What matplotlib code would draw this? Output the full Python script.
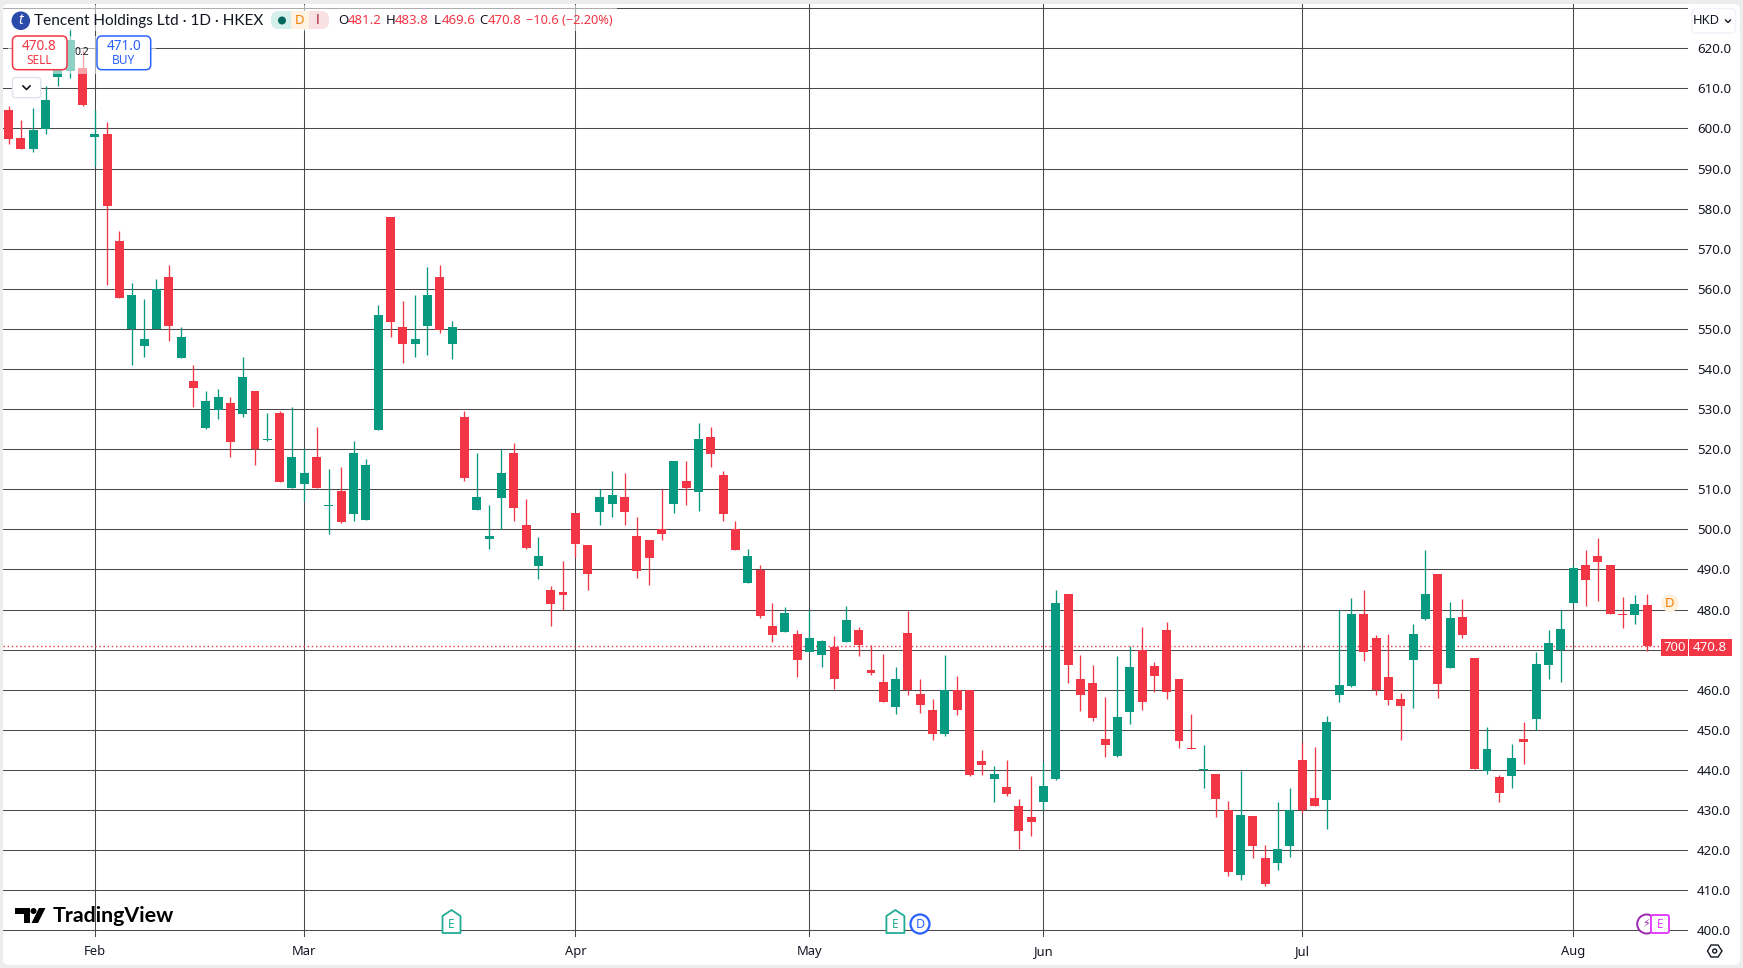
import matplotlib
matplotlib.use("Agg")
import matplotlib.pyplot as plt
from matplotlib.patches import Rectangle, Circle, FancyBboxPatch, Polygon

W, H = 1743, 968

opens = [604.6, 597.6, 594.9, 599.9, 612.8, 614.3, 615.1, 597.9, 598.6, 571.9, 549.9, 545.7, 549.9, 562.9, 542.7,
         537.0, 525.3, 529.8, 531.5, 528.8, 534.5, 522.3, 529.0, 510.3, 511.3, 518.0, 505.8, 509.6, 503.8, 502.3,
         524.8, 577.9, 550.5, 546.2, 550.7, 562.9, 546.2, 528.0, 504.8, 497.6, 507.8, 519.0, 501.1, 490.9,
         484.9, 484.4, 504.1, 496.1, 504.3, 506.3, 508.1, 498.3, 497.4, 500.0, 506.3, 512.1, 509.3, 523.0, 513.6,
         500.0, 486.6, 489.9, 475.9, 474.4, 473.9, 469.4, 468.7, 470.7, 471.9, 474.9, 464.9, 461.9, 455.7, 474.2,
         458.9, 454.9, 448.9, 459.9, 459.9, 442.2, 437.7, 435.7, 431.0, 428.2, 432.0, 437.7, 483.9, 462.7, 461.7,
         447.7, 443.5, 454.4, 469.8, 465.9, 474.9, 462.7, 445.5, 440.0, 439.0, 430.0, 413.8, 428.5, 418.0, 416.8,
         421.0, 442.5, 433.0, 432.5, 458.7, 460.9, 478.9, 472.9, 463.2, 457.7, 467.4, 477.6, 488.9, 465.4, 478.1,
         467.9, 439.7, 438.2, 438.5, 447.7, 452.7, 466.2, 469.8, 481.6, 491.1, 493.4, 491.1, 478.9, 478.6, 481.2]
highs = [605.6, 602.1, 605.1, 610.6, 617.0, 625.1, 619.6, 604.6, 601.6, 574.4, 561.5, 557.5, 562.5, 565.9, 550.5,
         541.0, 534.5, 535.0, 533.0, 543.0, 534.5, 529.0, 529.5, 530.5, 520.0, 525.5, 515.1, 515.6, 522.0, 517.6,
         556.0, 577.9, 557.0, 558.5, 565.5, 565.9, 552.0, 529.5, 519.0, 506.1, 520.0, 521.5, 507.6, 498.1,
         485.9, 492.1, 504.1, 496.1, 510.0, 514.6, 514.1, 503.1, 497.4, 510.0, 517.1, 517.1, 526.5, 525.5, 514.6,
         502.1, 495.1, 491.1, 481.6, 480.6, 474.9, 479.8, 472.4, 473.4, 480.9, 475.6, 471.2, 468.9, 465.7, 479.7,
         462.7, 457.7, 468.7, 463.4, 459.9, 445.0, 441.0, 442.5, 432.7, 438.5, 442.0, 484.9, 483.9, 468.7, 466.2,
         458.2, 468.4, 470.9, 475.6, 466.9, 476.9, 462.7, 453.9, 446.2, 439.0, 432.2, 439.7, 428.5, 421.3, 432.0,
         435.5, 447.0, 445.7, 453.5, 479.8, 482.9, 484.9, 473.7, 473.9, 459.2, 476.4, 494.9, 488.9, 481.9, 482.6,
         467.9, 450.7, 438.7, 446.5, 451.9, 469.4, 474.9, 479.8, 490.9, 494.9, 497.8, 491.1, 483.1, 483.6, 483.8]
lows = [596.1, 594.9, 594.1, 598.6, 610.6, 612.6, 605.6, 590.6, 561.0, 557.7, 541.0, 543.0, 549.9, 547.0, 542.7,
        530.5, 525.0, 527.5, 518.0, 528.0, 516.1, 522.0, 511.8, 510.3, 507.1, 510.3, 498.9, 501.6, 502.1, 502.3,
        524.8, 548.0, 541.5, 543.0, 543.5, 549.0, 542.5, 512.1, 504.8, 495.1, 500.0, 502.1, 495.1, 487.6,
        475.9, 479.9, 493.1, 484.9, 501.1, 503.1, 501.1, 487.9, 486.1, 497.4, 504.1, 506.1, 504.6, 515.6, 502.1,
        494.9, 486.6, 477.9, 471.9, 474.4, 463.2, 469.4, 465.7, 460.2, 471.9, 468.4, 463.7, 456.9, 453.9, 458.7,
        454.2, 447.5, 448.5, 453.7, 438.5, 438.7, 432.0, 433.5, 420.3, 423.5, 430.0, 437.5, 461.7, 454.7, 452.2,
        443.2, 443.2, 451.5, 455.0, 459.4, 457.7, 445.5, 445.2, 435.5, 428.2, 413.5, 412.5, 418.0, 411.0, 415.0,
        418.3, 429.2, 431.0, 425.3, 456.9, 460.7, 467.2, 458.7, 456.2, 447.5, 455.4, 477.4, 457.9, 465.4, 472.9,
        440.2, 439.0, 432.0, 435.5, 441.5, 449.9, 462.7, 461.9, 481.6, 480.9, 482.1, 478.9, 475.4, 476.4, 469.6]
closes = [597.4, 594.9, 599.6, 607.1, 615.0, 622.1, 605.9, 598.6, 580.7, 557.7, 558.5, 547.5, 559.9, 550.7, 548.0,
          535.3, 532.0, 533.0, 521.8, 538.0, 520.0, 522.5, 511.8, 518.0, 514.0, 510.3, 506.1, 501.8, 519.0, 516.1,
          553.5, 551.7, 546.2, 547.5, 558.5, 549.7, 550.5, 512.8, 508.1, 498.3, 514.0, 505.3, 495.4, 493.4,
          481.4, 483.6, 496.4, 488.9, 508.1, 508.6, 504.3, 489.6, 492.9, 498.8, 517.1, 510.3, 522.5, 518.8, 503.8,
          494.9, 493.4, 478.4, 473.6, 479.1, 467.4, 472.9, 472.2, 462.7, 477.4, 471.2, 464.2, 456.9, 462.7, 459.9,
          456.2, 448.9, 459.9, 454.9, 438.7, 441.2, 439.0, 434.0, 424.8, 427.0, 436.0, 481.6, 466.2, 458.7, 453.0,
          446.2, 453.2, 465.7, 457.0, 463.4, 459.4, 447.2, 445.2, 440.2, 432.7, 414.5, 428.7, 421.0, 411.5, 420.3,
          429.9, 429.9, 431.0, 451.9, 461.2, 478.9, 469.4, 459.9, 457.4, 455.9, 473.9, 483.9, 461.4, 477.9, 473.7,
          440.2, 445.2, 434.2, 443.0, 447.0, 466.4, 471.7, 475.1, 490.4, 487.4, 491.9, 478.9, 478.6, 481.4, 470.8]

month_pos = [7, 24, 46, 65, 84, 105, 127]
month_labels = ["Feb", "Mar", "Apr", "May", "Jun", "Jul", "Aug"]
price_ticks = list(range(400, 631, 10))
price_labels = [f"{p}.0" for p in price_ticks[:-1]] + [""]

last_price = closes[-1]
sell_price = "470.8"
buy_price = "471.0"

UP = "#089981"
DOWN = "#F23645"
GRID = "#4a4a4a"
TXT = "#131722"
BLUE = "#2962FF"
FONT = "Noto Sans"

plt.rcParams["font.family"] = FONT

fig = plt.figure(figsize=(W / 100, H / 100), dpi=100, facecolor="#EDEDED")

# panneau blanc derriere tout
bg = fig.add_axes([0, 0, 1, 1], zorder=0)
bg.set_xlim(0, W)
bg.set_ylim(H, 0)
bg.axis("off")
bg.add_patch(FancyBboxPatch((3, 4), W - 6, H - 7, boxstyle="round,pad=0,rounding_size=6", fc="white", ec="none"))

# pane des prix : x 3-1688, y 4-937
ax = fig.add_axes([3 / W, (H - 937) / H, 1685 / W, 933 / H], zorder=1)
ax.patch.set_alpha(0)
ax.set_xlim((3 - 8.6) / 12.32, (1688 - 8.6) / 12.32)
ax.set_ylim(620 - (937 - 48.3) / 4.009, 620 + (48.3 - 4) / 4.009)
for s in ax.spines.values():
    s.set_visible(False)

ax.set_xticks(month_pos)
ax.set_xticklabels(month_labels, fontsize=9.3, color=TXT)
ax.set_yticks(price_ticks)
ax.set_yticklabels(price_labels, fontsize=9.6, color=TXT)
ax.yaxis.tick_right()
ax.tick_params(axis="both", length=0)
ax.tick_params(axis="x", pad=5.5)
ax.tick_params(axis="y", pad=6.5)
ax.grid(True, color=GRID, linewidth=0.75, zorder=1)
ax.set_axisbelow(True)

xs = list(range(len(closes)))
colors = [UP if c >= o else DOWN for o, c in zip(opens, closes)]
ax.vlines(xs, lows, highs, colors=colors, linewidth=0.95, zorder=3)
bottoms = [min(o, c) for o, c in zip(opens, closes)]
heights = [max(abs(c - o), 0.25) for o, c in zip(opens, closes)]
ax.bar(xs, heights, bottom=bottoms, width=0.73, color=colors, linewidth=0, zorder=4)

# ligne du dernier prix
ax.axhline(last_price, color=DOWN, linewidth=1, linestyle=(0, (1, 2)), zorder=2)

# tout le reste est place en pixels
ov = fig.add_axes([0, 0, 1, 1], zorder=5)
ov.set_xlim(0, W)
ov.set_ylim(H, 0)
ov.axis("off")
ov.patch.set_alpha(0)


def box(x0, y0, x1, y1, r=3, **kw):
    ov.add_patch(FancyBboxPatch((x0, y0), x1 - x0, y1 - y0, boxstyle=f"round,pad=0,rounding_size={r}", **kw))


# voile blanc sous la legende et les boutons
ov.add_patch(Rectangle((3, 5), 614, 26, fc="white", ec="none", alpha=0.55))
ov.add_patch(Rectangle((8, 36), 148, 38, fc="white", ec="none", alpha=0.55))

# titre
ov.add_patch(Circle((20.8, 20.7), 9.3, fc="#2B4BA8", ec="none"))
ov.text(20.8, 20.5, "t", color="white", fontsize=10, fontweight="bold", ha="center", va="center", style="italic")
ov.text(34, 20.5, "Tencent Holdings Ltd · 1D · HKEX", fontsize=11.1, family="Lato", color=TXT, va="center")

# pastilles de statut
box(271, 11, 300, 29, r=8, fc="#D5EFEA", ec="none")
box(300, 11, 329, 29, r=8, fc="#F8E0E3", ec="none")
ov.add_patch(Rectangle((291, 11), 18, 18, fc="#FFF3E3", ec="none"))
ov.add_patch(Circle((282, 20.5), 4, fc="#00695C", ec="none"))
ov.text(300, 20.5, "D", fontsize=9.5, color="#F57C00", ha="center", va="center", fontweight="bold")
ov.text(318, 20.5, "!", fontsize=10.5, color="#B22833", ha="center", va="center", fontweight="bold")

# OHLC
ohlc = [("O", 338, "481.2", 347.3), ("H", 385.7, "483.8", 395), ("L", 433.5, "469.6", 441.6), ("C", 478.8, "470.8", 488)]
for key, kx, val, vx in ohlc:
    ov.text(kx, 20.5, key, fontsize=9.5, color=TXT, va="center")
    ov.text(vx, 20.5, val, fontsize=9.5, color=DOWN, va="center")
ov.text(526.5, 20.5, "−10.6 (−2.20%)", fontsize=9.2, color=DOWN, va="center")

# boutons sell / buy
box(12.5, 36, 67, 69.7, r=5, fc="white", ec=DOWN, lw=1.1)
ov.text(39.6, 46, sell_price, fontsize=9.8, color=DOWN, ha="center", va="center", fontweight="bold")
ov.text(39.6, 60, "SELL", fontsize=8.6, color=DOWN, ha="center", va="center")
box(97, 36, 150.7, 69.7, r=5, fc="white", ec=BLUE, lw=1.1)
ov.text(124, 46, buy_price, fontsize=9.8, color=BLUE, ha="center", va="center", fontweight="bold")
ov.text(124, 60, "BUY", fontsize=8.6, color=BLUE, ha="center", va="center")
ov.text(81.7, 52.7, "0.2", fontsize=7.5, color=TXT, ha="center", va="center")
box(12.5, 77.5, 40.7, 97.7, r=3, fc="white", ec="#E0E3EB", lw=1)
ov.plot([23, 26.5, 30], [86, 89.5, 86], color=TXT, lw=1.2)

# bouton devise
box(1692, 8.5, 1735.5, 33, r=4, fc="white", ec="#F0F3FA", lw=1)
ov.text(1706.7, 20.7, "HKD", fontsize=9.3, color=TXT, ha="center", va="center")
ov.plot([1725.5, 1728, 1730.5], [20, 22.5, 20], color=TXT, lw=1)

# etiquettes du prix
ov.add_patch(Rectangle((1661, 639), 26.7, 16.7, fc=DOWN, ec="none"))
ov.add_patch(Rectangle((1689, 639), 42.7, 16.7, fc=DOWN, ec="none"))
ov.text(1674.5, 647.5, "700", fontsize=9.4, color="white", ha="center", va="center", fontweight="medium")
ov.text(1710.3, 647.5, f"{last_price:.1f}", fontsize=9.6, color="white", ha="center", va="center", fontweight="bold")

# dividende a droite
ov.add_patch(Circle((1670, 603.3), 8.7, fc="#FFF0DC", ec="none"))
ov.text(1670, 603.3, "D", fontsize=9.5, color="#F57C00", ha="center", va="center")


def earnings(cx, cy=924):
    pts = [(cx - 9, cy - 8), (cx, cy - 14), (cx + 9, cy - 8), (cx + 9, cy + 9), (cx - 9, cy + 9)]
    ov.add_patch(Polygon(pts, closed=True, fc="white", ec="#22AB94", lw=1.3, joinstyle="round"))
    ov.text(cx, cy, "E", fontsize=8.5, color="#22AB94", ha="center", va="center", fontweight="bold")


earnings(451.5)
earnings(895.4)
ov.add_patch(Circle((920, 924), 9.5, fc="white", ec=BLUE, lw=1.6))
ov.text(920, 924, "D", fontsize=9, color=BLUE, ha="center", va="center")

ov.add_patch(Circle((1646.7, 924), 9.5, fc="white", ec="#9C27B0", lw=1.4))
ov.text(1645.5, 924, "⚡", fontsize=8, color="#9C27B0", ha="center", va="center", family="DejaVu Sans")
box(1651, 915, 1669, 933, r=2, fc="white", ec="#E040FB", lw=1.4)
ov.text(1660, 924, "E", fontsize=8.5, color="#E040FB", ha="center", va="center", fontweight="bold")

# logo TradingView
ov.add_patch(Polygon([(15, 908), (30, 908), (30, 923), (24, 923), (24, 914), (15, 914)], fc="black", ec="none"))
ov.add_patch(Circle((33.5, 911), 3, fc="black", ec="none"))
ov.add_patch(Polygon([(39, 908), (45.5, 908), (38, 923), (31.5, 923)], fc="black", ec="none"))
ov.text(52.5, 916, "TradingView", fontsize=15.4, family="Lato", color="black", va="center", fontweight="bold")

# reglages
a = [(1707.5, 951), (1711, 945), (1718, 945), (1722, 951), (1718, 957), (1711, 957)]
ov.add_patch(Polygon(a, closed=True, fc="white", ec=TXT, lw=1))
ov.add_patch(Circle((1714.7, 951), 2, fc="white", ec=TXT, lw=1))

fig.savefig("out.png", dpi=100)
